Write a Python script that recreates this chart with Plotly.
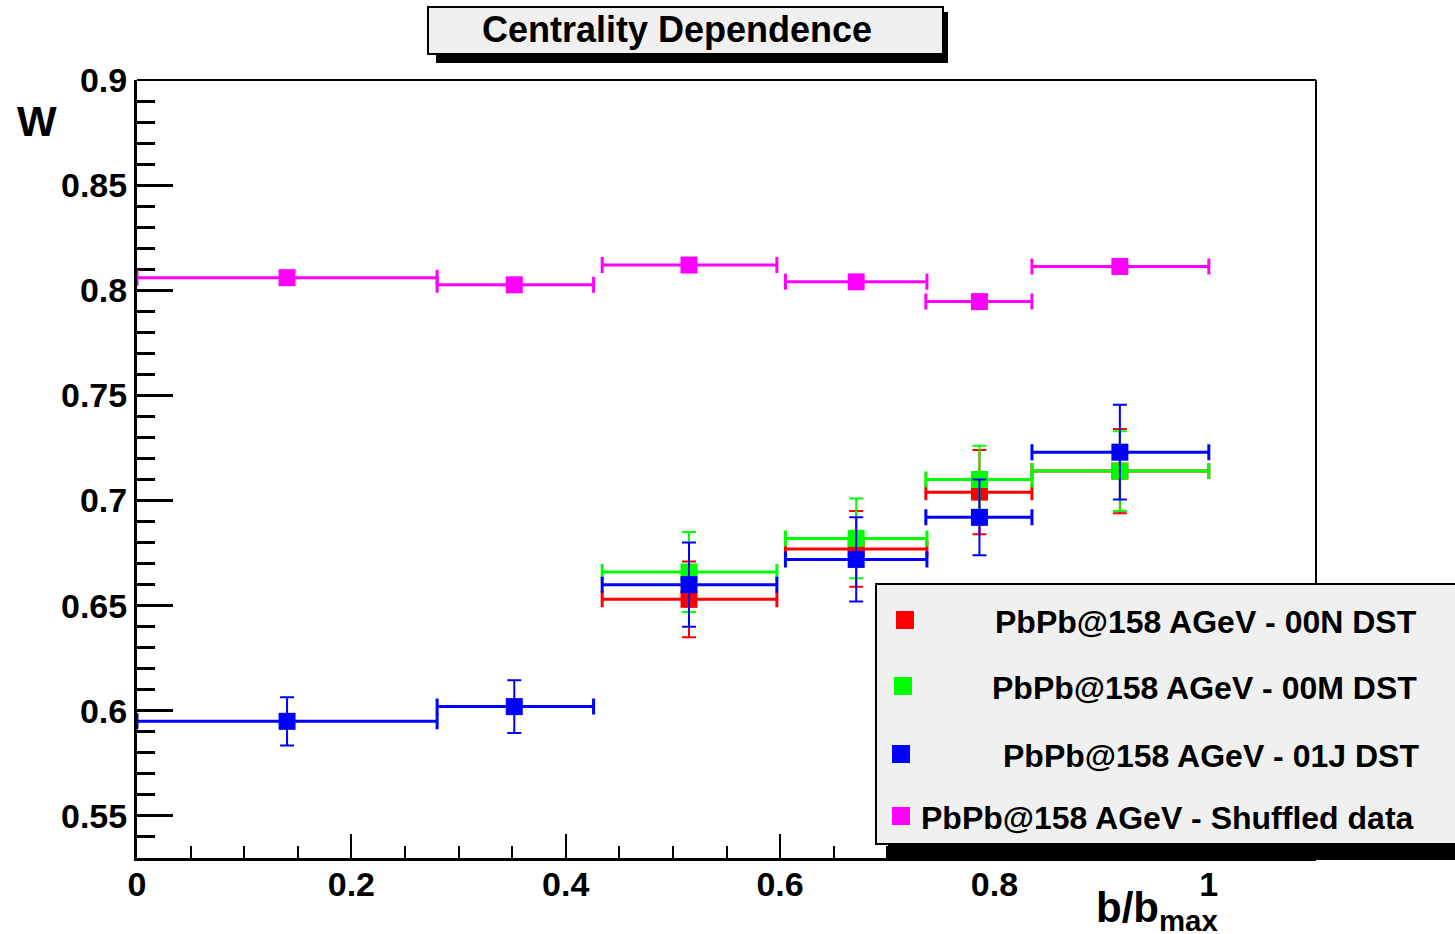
import plotly.graph_objects as go

# ---------------- data ----------------
x_center = [0.14, 0.352, 0.515, 0.671, 0.786, 0.917]
x_low = [0.0, 0.28, 0.434, 0.605, 0.736, 0.835]
x_high = [0.28, 0.426, 0.597, 0.737, 0.835, 1.0]

red_y = [0.653, 0.677, 0.704, 0.714]
red_err = [0.018, 0.018, 0.020, 0.020]

green_y = [0.666, 0.682, 0.710, 0.714]
green_err = [0.019, 0.019, 0.016, 0.019]

blue_y = [0.595, 0.602, 0.660, 0.672, 0.692, 0.723]
blue_err = [0.0115, 0.0125, 0.020, 0.020, 0.018, 0.0225]

mag_y = [0.806, 0.8026, 0.812, 0.804, 0.7946, 0.8113]
mag_err = [0.0025, 0.0025, 0.0025, 0.0025, 0.0025, 0.0025]

series_names = [
    "PbPb@158 AGeV - 00N DST",
    "PbPb@158 AGeV - 00M DST",
    "PbPb@158 AGeV - 01J DST",
    "PbPb@158 AGeV - Shuffled data",
]
colors = ["#ff0000", "#00ff00", "#0000ff", "#ff00ff"]

y_tickvals = [0.55, 0.6, 0.65, 0.7, 0.75, 0.8, 0.85, 0.9]
y_ticktext = ["0.55", "0.6", "0.65", "0.7", "0.75", "0.8", "0.85", "0.9"]
x_tickvals = [0, 0.2, 0.4, 0.6, 0.8, 1.0]
x_ticktext = ["0", "0.2", "0.4", "0.6", "0.8", "1"]

title_text = "Centrality Dependence"

# ---------------- layout helpers ----------------
W, H = 1455, 934
L, R, T, B = 137, 1316, 80, 858
FONT = "Liberation Sans, Arial, Helvetica, sans-serif"


def px(x):
    return (x - L) / (R - L)


def py(y):
    return (B - y) / (B - T)


fig = go.Figure()


def add_series(xs, ys, errs, lows, highs, color, name, exw=3):
    fig.add_trace(go.Scatter(
        x=xs, y=ys, mode="markers", name=name, showlegend=False,
        marker=dict(symbol="square", size=17, color=color, line=dict(width=0)),
        error_x=dict(type="data", symmetric=False,
                     array=[h - c for h, c in zip(highs, xs)],
                     arrayminus=[c - l for c, l in zip(xs, lows)],
                     color=color, thickness=exw, width=8),
        error_y=dict(type="data", array=errs, color=color, thickness=2, width=7),
    ))


n = len(red_y)
add_series(x_center[-n:], red_y, red_err, x_low[-n:], x_high[-n:], colors[0], series_names[0])
add_series(x_center[-n:], green_y, green_err, x_low[-n:], x_high[-n:], colors[1], series_names[1])
add_series(x_center, blue_y, blue_err, x_low, x_high, colors[2], series_names[2])
add_series(x_center, mag_y, mag_err, x_low, x_high, colors[3], series_names[3])

shapes = []
# plot frame top/right (thin)
shapes.append(dict(type="line", xref="paper", yref="paper", x0=0, x1=1, y0=1, y1=1,
                   line=dict(color="black", width=2)))
shapes.append(dict(type="line", xref="paper", yref="paper", x0=1, x1=1, y0=0, y1=1,
                   line=dict(color="black", width=2)))
# title box with shadow
shapes.append(dict(type="rect", xref="paper", yref="paper",
                   x0=px(436), x1=px(948), y0=py(63), y1=py(12),
                   fillcolor="black", line=dict(width=0), layer="above"))
shapes.append(dict(type="rect", xref="paper", yref="paper",
                   x0=px(428), x1=px(943), y0=py(54), y1=py(7),
                   fillcolor="#f0f0f0", line=dict(color="black", width=2), layer="above"))
# legend box with shadow
shapes.append(dict(type="rect", xref="paper", yref="paper",
                   x0=px(888), x1=px(1460), y0=py(860), y1=py(596),
                   fillcolor="black", line=dict(width=0), layer="above"))
shapes.append(dict(type="rect", xref="paper", yref="paper",
                   x0=px(876), x1=px(1460), y0=py(844), y1=py(584),
                   fillcolor="#f0f0f0", line=dict(color="black", width=2), layer="above"))
shapes.append(dict(type="line", xref="paper", yref="paper",
                   x0=px(888), x1=px(1460), y0=py(852), y1=py(852),
                   line=dict(color="black", width=15), layer="above"))

legend_rows = [620, 686, 754, 816]
legend_sw_x = [905, 903, 901, 901]
legend_text_right = [1419, 1419, 1421, 1416]
annotations = []
for i in range(4):
    cx, cy = legend_sw_x[i], legend_rows[i]
    shapes.append(dict(type="rect", xref="paper", yref="paper",
                       x0=px(cx - 9), x1=px(cx + 9), y0=py(cy + 9), y1=py(cy - 9),
                       fillcolor=colors[i], line=dict(width=0), layer="above"))
    annotations.append(dict(text=series_names[i], xref="paper", yref="paper",
                            x=px(legend_text_right[i]), y=py(cy + 2),
                            xanchor="right", yanchor="middle", showarrow=False,
                            font=dict(family=FONT, size=32, color="black", weight="bold")))

annotations.append(dict(text=title_text, xref="paper", yref="paper",
                        x=px(677), y=py(30), xanchor="center", yanchor="middle",
                        showarrow=False,
                        font=dict(family=FONT, size=36, color="black", weight="bold")))
annotations.append(dict(text="W", xref="paper", yref="paper",
                        x=px(37), y=py(122), xanchor="center", yanchor="middle",
                        showarrow=False,
                        font=dict(family=FONT, size=42, color="black", weight="bold")))
annotations.append(dict(text="b/b<sub>max</sub>", xref="paper", yref="paper",
                        x=px(1220), y=py(910), xanchor="right", yanchor="middle",
                        showarrow=False,
                        font=dict(family=FONT, size=42, color="black", weight="bold")))

fig.update_layout(
    width=W, height=H,
    margin=dict(l=L, r=W - R, t=T, b=H - B, pad=0),
    paper_bgcolor="white", plot_bgcolor="white",
    showlegend=False,
    shapes=shapes, annotations=annotations,
    font=dict(family=FONT, color="black"),
)
fig.update_xaxes(
    range=[0, 1.1], showgrid=False, zeroline=False,
    showline=True, linecolor="black", linewidth=3, layer="below traces",
    ticks="inside", ticklen=24, tickwidth=2, tickcolor="black",
    tickvals=x_tickvals, ticktext=x_ticktext, ticklabelstandoff=-6,
    tickfont=dict(family=FONT, size=34, color="black", weight="bold"),
    minor=dict(ticks="inside", dtick=0.05, tick0=0, ticklen=12, tickwidth=2,
               tickcolor="black", showgrid=False),
)
fig.update_yaxes(
    range=[0.53, 0.9], showgrid=False, zeroline=False,
    showline=True, linecolor="black", linewidth=3, layer="below traces",
    ticks="inside", ticklen=36, tickwidth=3, tickcolor="black",
    tickvals=y_tickvals, ticktext=y_ticktext,
    tickfont=dict(family=FONT, size=34, color="black", weight="bold"),
    minor=dict(ticks="inside", dtick=0.01, tick0=0, ticklen=18, tickwidth=3,
               tickcolor="black", showgrid=False),
)

fig.write_html("out.html")
